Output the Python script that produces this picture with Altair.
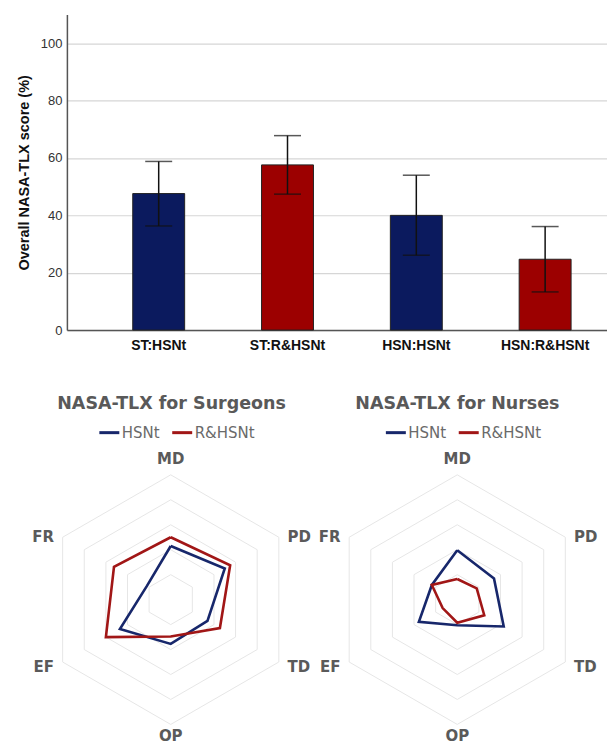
import altair as alt
import pandas as pd

# ---------------- data ----------------
groups = ["ST:HSNt", "ST:R&HSNt", "HSN:HSNt", "HSN:R&HSNt"]
conditions = ["HSNt", "R&HSNt", "HSNt", "R&HSNt"]
means = [47.6, 57.6, 40.0, 24.7]
err_low = [36.3, 47.4, 26.1, 13.3]
err_high = [58.8, 67.8, 54.0, 36.1]
y_ticks = [0, 20, 40, 60, 80, 100]

dims = ["MD", "PD", "TD", "OP", "EF", "FR"]
surgeons_hsnt = [43, 50, 34, 35.5, 47, 22]
surgeons_rhsnt = [50, 55, 45.5, 29.5, 60, 52.5]
nurses_hsnt = [39.5, 34, 43, 20.5, 35.5, 23.5]
nurses_rhsnt = [16.5, 18, 25, 18.5, 13.5, 23.5]
ring_levels = [20, 40, 60, 80, 100]
series_names = ["HSNt", "R&HSNt"]

bar_colors = ["#0b1a5e", "#9c0000"]
line_colors = ["#17276b", "#a11616"]
LBL = "#5a5a5a"

# ---------------- bar chart ----------------
bar_df = pd.DataFrame({"group": groups, "cond": conditions, "mean": means,
                       "lo": err_low, "hi": err_high})

xsc = alt.Scale(domain=groups, paddingInner=0.597, paddingOuter=0.395, align=0.647)
ysc = alt.Scale(domain=[0, 110], nice=False)

xax = alt.Axis(title=None, labelAngle=0, ticks=False, domainColor="#555", domainWidth=1.5,
               labelFont="Liberation Sans", labelFontSize=14, labelFontWeight="bold",
               labelColor="#111", labelPadding=8)
yax = alt.Axis(values=y_ticks, title="Overall NASA-TLX score (%)", grid=True,
               gridColor="#d6d6d6", gridWidth=1.2, ticks=False, domainColor="#555",
               domainWidth=1.5, labelFont="Liberation Sans", labelFontSize=13,
               labelColor="#333", labelPadding=5, titleFont="Liberation Sans",
               titleFontSize=14.5, titleFontWeight="bold", titleColor="#111",
               titlePadding=8.5)

base = alt.Chart(bar_df)
bars = base.mark_bar(stroke="#222", strokeWidth=1).encode(
    x=alt.X("group:N", scale=xsc, axis=xax, sort=groups),
    y=alt.Y("mean:Q", scale=ysc, axis=yax),
    fill=alt.Fill("cond:N", scale=alt.Scale(domain=series_names, range=bar_colors), legend=None),
)
err = base.mark_rule(color="#111", strokeWidth=1.5).encode(
    x=alt.X("group:N", scale=xsc, sort=groups), y="lo:Q", y2="hi:Q")
cap_hi = base.mark_tick(color="#111", size=27, thickness=1.5).encode(
    x=alt.X("group:N", scale=xsc, sort=groups), y="hi:Q")
cap_lo = base.mark_tick(color="#111", size=27, thickness=1.5).encode(
    x=alt.X("group:N", scale=xsc, sort=groups), y="lo:Q")

bar_chart = alt.layer(bars, err, cap_hi, cap_lo).properties(width=541, height=316)

# ---------------- radar charts ----------------
def series_df(hs, rhs):
    rows = []
    for name, vals in zip(series_names, (hs, rhs)):
        for i in range(len(dims) + 1):
            rows.append({"series": name, "idx": i, "value": vals[i % len(dims)]})
    return pd.DataFrame(rows)

ring_df = pd.DataFrame([{"level": lv, "idx": i, "value": lv}
                        for lv in ring_levels for i in range(len(dims) + 1)])
label_df = pd.DataFrame({"dim": dims, "idx": list(range(len(dims)))})

ANG = "(PI/2 - datum.idx*PI/3)"


def radar(hs, rhs, title, xdom, width, legx):
    xs = alt.Scale(domain=xdom, nice=False, zero=False)
    ys = alt.Scale(domain=[-112, 112], nice=False, zero=False)
    X = alt.X("px:Q", scale=xs, axis=None)
    Y = alt.Y("py:Q", scale=ys, axis=None)
    rings = alt.Chart(ring_df).transform_calculate(
        px=f"datum.value*cos({ANG})", py=f"datum.value*sin({ANG})"
    ).mark_line(color="#e6e6e6", strokeWidth=1).encode(
        x=X, y=Y, detail="level:N", order="idx:Q")
    lines = alt.Chart(series_df(hs, rhs)).transform_calculate(
        px=f"datum.value*cos({ANG})", py=f"datum.value*sin({ANG})"
    ).mark_line(strokeWidth=2.6, strokeJoin="miter").encode(
        x=X, y=Y, order="idx:Q",
        color=alt.Color("series:N", scale=alt.Scale(domain=series_names, range=line_colors),
                        legend=alt.Legend(orient="none", legendX=legx, legendY=-39,
                                          direction="horizontal", title=None,
                                          symbolType="stroke", symbolSize=400,
                                          symbolStrokeWidth=3, labelOffset=1,
                                          labelFont="DejaVu Sans", labelFontSize=15,
                                          labelColor="#6a6a6a", columnPadding=6)))
    lab = alt.Chart(label_df).transform_calculate(
        lr="datum.idx == 0 ? 113 : (datum.idx == 3 ? 109 : 108)"
    ).transform_calculate(
        px=f"datum.lr*cos({ANG})",
        py=f"datum.lr*sin({ANG}) - ((datum.idx == 1 || datum.idx == 5) ? 4 : 0)")
    tstyle = dict(font="DejaVu Sans", fontSize=15, fontWeight="bold", color=LBL,
                  baseline="middle")
    lab_c = lab.transform_filter("datum.idx % 3 == 0").mark_text(align="center", **tstyle).encode(
        x=X, y=Y, text="dim:N")
    lab_r = lab.transform_filter("datum.idx == 1 || datum.idx == 2").mark_text(
        align="left", **tstyle).encode(x=X, y=Y, text="dim:N")
    lab_l = lab.transform_filter("datum.idx == 4 || datum.idx == 5").mark_text(
        align="right", **tstyle).encode(x=X, y=Y, text="dim:N")
    return alt.layer(rings, lines, lab_c, lab_r, lab_l).properties(
        width=width, height=280,
        title=alt.TitleParams(title, font="DejaVu Sans", fontSize=17.5, fontWeight="bold",
                              color="#595959", anchor="middle", frame="bounds", offset=8),
    )


# left panel plot area starts where the bar plot starts (x=66), centre at x=170
left = radar(surgeons_hsnt, surgeons_rhsnt, "NASA-TLX for Surgeons", [-83.2, 112], 244, 31)
right = radar(nurses_hsnt, nurses_rhsnt, "NASA-TLX for Nurses", [-112, 112], 280, 67)

bottom = alt.hconcat(left, right, spacing=6).resolve_scale(color="independent")

chart = alt.vconcat(bar_chart, bottom, spacing=43).resolve_scale(
    color="independent", fill="independent"
).properties(
    padding={"left": 8, "top": 6, "right": 0, "bottom": 0}
).configure_view(stroke=None)

chart.save("out.html", embed_options={"renderer": "svg", "actions": False})
